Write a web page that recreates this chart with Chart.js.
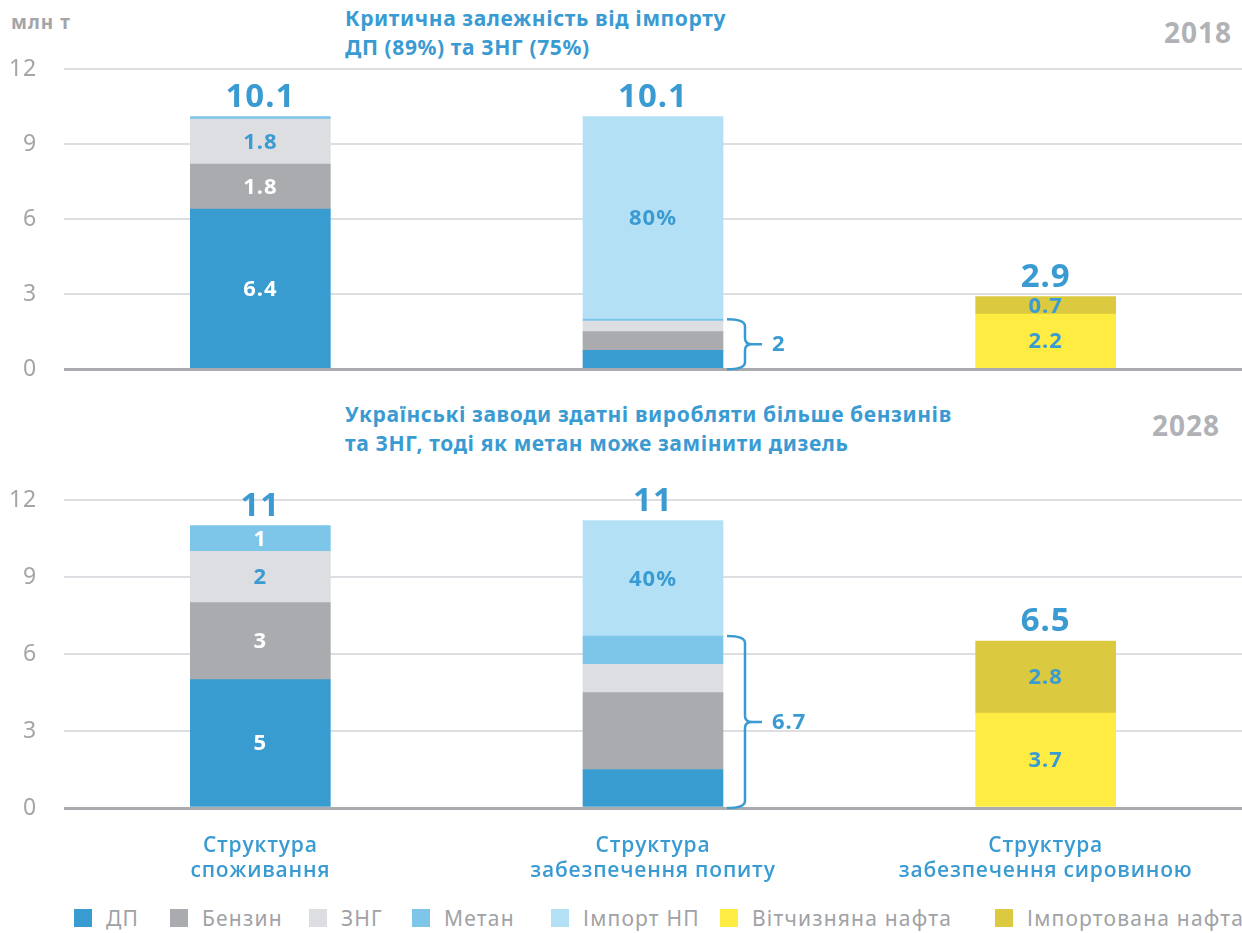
<!DOCTYPE html>
<html>
<head>
<meta charset="utf-8">
<script src="https://cdn.jsdelivr.net/npm/chart.js@4"></script>
<style>
  body { margin: 0; background: #fff; font-family: "Noto Sans", sans-serif; }
  #wrap { position: relative; width: 1242px; height: 933px; overflow: hidden; }
  canvas { position: absolute; left: 0; }
  .title { position: absolute; left: 345px; color: #3a9bd2; font-weight: bold; font-size: 21px; letter-spacing: 0.6px; line-height: 29px; white-space: nowrap; }
  .year { position: absolute; color: #b0b2b6; font-weight: bold; font-size: 28px; letter-spacing: 1px; line-height: 30px; }
  .unit { position: absolute; left: 11px; top: 11px; color: #a3a5a9; font-weight: bold; font-size: 19px; letter-spacing: 1px; line-height: 22px; }
  .leg { position: absolute; top: 904px; height: 28px; line-height: 28px; color: #a0a2a6; font-size: 21px; letter-spacing: 1.2px; white-space: nowrap; }
  .leg i { position: absolute; left: 0; top: 5px; width: 18px; height: 18px; }
  .leg span { position: absolute; left: 32px; }
</style>
</head>
<body>
<div id="wrap">
  <div class="unit">млн т</div>
  <div class="title" style="top:4px">Критична залежність від імпорту<br>ДП (89%) та ЗНГ (75%)</div>
  <div class="year" style="right:10px; top:17px">2018</div>
  <div class="title" style="top:400px">Українські заводи здатні виробляти більше бензинів<br>та ЗНГ, тоді як метан може замінити дизель</div>
  <div class="year" style="right:22px; top:410px">2028</div>
  <canvas id="top" width="1242" height="410" style="top:0"></canvas>
  <canvas id="bottom" width="1242" height="500" style="top:390px"></canvas>
  <div id="legend"></div>
</div>
<script>
// categories and series
const categories = [["Структура", "споживання"], ["Структура", "забезпечення попиту"], ["Структура", "забезпечення сировиною"]];
const seriesNames = ["ДП", "Бензин", "ЗНГ", "Метан", "Імпорт НП", "Вітчизняна нафта", "Імпортована нафта"];
const seriesColors = ["#389cd1", "#a9abaf", "#dcdee2", "#7dc6ea", "#b3e0f5", "#ffec42", "#dbc940"];
const labelColors = ["#ffffff", "#ffffff", "#3a9bd2", "#ffffff", "#3a9bd2", "#3a9bd2", "#3a9bd2"];
const yTicks = [0, 3, 6, 9, 12];

// 2018, млн т
const dp2018 = [6.4, 0.75, null];
const petrol2018 = [1.8, 0.75, null];
const lpg2018 = [1.8, 0.42, null];
const methane2018 = [0.1, 0.08, null];
const importNp2018 = [null, 8.1, null];
const domOil2018 = [null, null, 2.2];
const impOil2018 = [null, null, 0.7];
const totals2018 = ["10.1", "10.1", "2.9"];
const importShare2018 = "80%";
const bracket2018 = "2";

// 2028, млн т
const dp2028 = [5, 1.5, null];
const petrol2028 = [3, 3.0, null];
const lpg2028 = [2, 1.1, null];
const methane2028 = [1, 1.1, null];
const importNp2028 = [null, 4.5, null];
const domOil2028 = [null, null, 3.7];
const impOil2028 = [null, null, 2.8];
const totals2028 = ["11", "11", "6.5"];
const importShare2028 = "40%";
const bracket2028 = "6.7";

const BLUE = "#3a9bd2";
const FONT = "'Noto Sans', sans-serif";
const bracketBar = 1;
const importIdx = 4;

// wider letter spacing, closer to the original typeface
const spacing = {
  id: "spacing",
  beforeDraw(chart) { chart.ctx.letterSpacing = "0.8px"; }
};

// segment labels, totals and the brace next to the middle bar
const overlay = {
  id: "overlay",
  afterDatasetsDraw(chart, args, opts) {
    const ctx = chart.ctx;
    const y = chart.scales.y;
    ctx.save();
    ctx.letterSpacing = "1px";
    ctx.textAlign = "center";
    ctx.textBaseline = "middle";
    chart.data.datasets.forEach((ds, di) => {
      const meta = chart.getDatasetMeta(di);
      ds.data.forEach((v, i) => {
        if (!v || v < 0.5) return;
        if (i === bracketBar && di !== importIdx) return;
        const el = meta.data[i];
        const text = di === importIdx ? opts.share : String(v);
        ctx.font = "bold 22px " + FONT;
        ctx.fillStyle = labelColors[di];
        ctx.fillText(text, el.x, (el.y + el.base) / 2 + 1);
      });
    });
    // totals
    ctx.font = "bold 33px " + FONT;
    ctx.fillStyle = BLUE;
    ctx.textBaseline = "alphabetic";
    chart.data.labels.forEach((l, i) => {
      const sum = chart.data.datasets.reduce((s, ds) => s + (ds.data[i] || 0), 0);
      const x = chart.getDatasetMeta(0).data[i].x;
      ctx.fillText(opts.totals[i], x, y.getPixelForValue(sum) - 10);
    });
    // brace
    const el = chart.getDatasetMeta(0).data[bracketBar];
    const sub = chart.data.datasets.slice(0, importIdx).reduce((s, ds) => s + (ds.data[bracketBar] || 0), 0);
    const top = y.getPixelForValue(sub);
    const bot = y.getPixelForValue(0);
    const mid = (top + bot) / 2;
    const x0 = el.x + el.width / 2 + 4;
    const xv = x0 + 18;
    ctx.strokeStyle = BLUE;
    ctx.lineWidth = 2.5;
    ctx.beginPath();
    ctx.moveTo(x0, top);
    ctx.quadraticCurveTo(xv, top, xv, top + 7);
    ctx.lineTo(xv, mid - 6);
    ctx.quadraticCurveTo(xv, mid, xv + 7, mid);
    ctx.lineTo(xv + 17, mid);
    ctx.moveTo(x0, bot);
    ctx.quadraticCurveTo(xv, bot, xv, bot - 7);
    ctx.lineTo(xv, mid + 6);
    ctx.quadraticCurveTo(xv, mid, xv + 7, mid);
    ctx.stroke();
    ctx.font = "bold 22px " + FONT;
    ctx.textAlign = "left";
    ctx.textBaseline = "middle";
    ctx.fillText(opts.bracket, xv + 27, mid + 1);
    ctx.restore();
  }
};

function makeChart(id, series, totals, share, bracket, showX) {
  new Chart(document.getElementById(id), {
    type: "bar",
    data: {
      labels: categories,
      datasets: series.map((d, i) => ({
        label: seriesNames[i],
        data: d,
        backgroundColor: seriesColors[i],
        borderWidth: 0,
        barThickness: 140
      }))
    },
    options: {
      responsive: false,
      animation: false,
      layout: { padding: { left: 10, right: 0, top: showX ? 110 : 69, bottom: 0 } },
      plugins: {
        legend: { display: false },
        tooltip: { enabled: false },
        overlay: { totals: totals, share: share, bracket: bracket }
      },
      scales: {
        x: {
          stacked: true,
          grid: { display: false, drawTicks: false },
          border: { display: false },
          ticks: { display: showX, color: BLUE, padding: 25, font: { family: "'Open Sans', sans-serif", weight: 600, size: 21, lineHeight: 1.2 } },
          afterFit: (s) => { s.height = showX ? 82 : 32; }
        },
        y: {
          stacked: true,
          min: 0,
          max: 12,
          afterBuildTicks: (s) => { s.ticks = yTicks.map((v) => ({ value: v })); },
          afterFit: (s) => { s.width = 54; },
          border: { display: false },
          grid: {
            drawTicks: false,
            color: (c) => (c.tick && c.tick.value === 0 ? "#a9abaf" : "#dcdee2"),
            lineWidth: (c) => (c.tick && c.tick.value === 0 ? 3 : 2)
          },
          ticks: { color: "#a3a5a9", padding: 27, font: { family: FONT, size: 23 } }
        }
      }
    },
    plugins: [spacing, overlay]
  });
}

makeChart("top", [dp2018, petrol2018, lpg2018, methane2018, importNp2018, domOil2018, impOil2018], totals2018, importShare2018, bracket2018, false);
makeChart("bottom", [dp2028, petrol2028, lpg2028, methane2028, importNp2028, domOil2028, impOil2028], totals2028, importShare2028, bracket2028, true);

// legend
const legendX = [74, 170, 309, 412, 551, 720, 995];
const legend = document.getElementById("legend");
seriesNames.forEach((n, i) => {
  const d = document.createElement("div");
  d.className = "leg";
  d.style.left = legendX[i] + "px";
  d.innerHTML = '<i style="background:' + seriesColors[i] + '"></i><span>' + n + "</span>";
  legend.appendChild(d);
});
</script>
</body>
</html>
